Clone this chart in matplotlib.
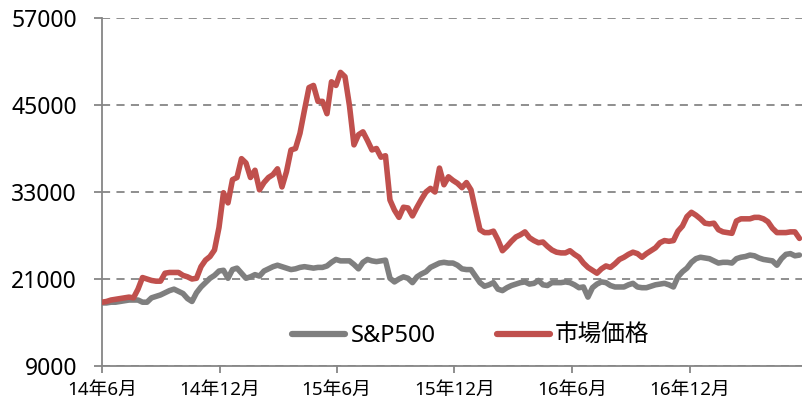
import matplotlib
matplotlib.use("Agg")
import matplotlib.pyplot as plt
import pandas as pd

plt.rcParams['font.family'] = ['Noto Sans', 'Noto Sans CJK JP', 'DejaVu Sans']

# Weekly observations, June 2014 - May 2017
dates = pd.date_range('2014-06-01', periods=156, freq='7D')

sp500 = [
    17700, 17700, 17800, 17800, 17900, 18000, 18100, 18100, 18100, 17800,
    17800, 18400, 18600, 18800, 19100, 19400, 19600, 19300, 19000, 18300,
    17900, 19100, 19900, 20500, 21100, 21500, 22100, 22200, 21100, 22300,
    22500, 21800, 21100, 21300, 21600, 21400, 22100, 22400, 22700, 22900,
    22700, 22500, 22300, 22400, 22600, 22700, 22600, 22500, 22600, 22600,
    22800, 23300, 23700, 23500, 23500, 23500, 23000, 22400, 23300, 23700,
    23500, 23400, 23500, 23600, 21100, 20600, 21000, 21300, 21100, 20500,
    21300, 21700, 22000, 22600, 22900, 23200, 23300, 23200, 23200, 22900,
    22400, 22300, 22300, 21400, 20500, 20000, 20200, 20500, 19600, 19400,
    19800, 20100, 20300, 20500, 20600, 20300, 20400, 20800, 20200, 20100,
    20500, 20500, 20500, 20600, 20500, 20200, 19800, 19900, 18500, 19800,
    20300, 20600, 20500, 20100, 19900, 19900, 19900, 20200, 20400, 19900,
    19800, 19800, 20000, 20200, 20300, 20400, 20200, 19900, 21300, 22000,
    22500, 23300, 23800, 24000, 23900, 23800, 23500, 23200, 23300, 23300,
    23200, 23800, 24000, 24100, 24300, 24200, 23900, 23700, 23600, 23500,
    22900, 23800, 24400, 24500, 24200, 24300,
]

market_price = [
    17800, 17900, 18100, 18200, 18300, 18400, 18500, 18400, 19600, 21200,
    21000, 20800, 20700, 20700, 21800, 21900, 21900, 21900, 21500, 21300,
    21000, 21100, 22700, 23600, 24100, 25000, 28100, 32900, 31500, 34700,
    35000, 37600, 37000, 35000, 36000, 33300, 34300, 35000, 35400, 36200,
    33700, 35800, 38800, 39000, 41100, 44300, 47400, 47700, 45500, 45500,
    43800, 48200, 47700, 49500, 48900, 44900, 39500, 40900, 41300, 40100,
    38800, 39000, 37800, 38000, 31900, 30500, 29500, 30900, 30800, 29700,
    30900, 32000, 33000, 33500, 33000, 36300, 34000, 35100, 34600, 34200,
    33600, 34300, 33300, 30500, 27800, 27400, 27400, 27600, 26400, 24900,
    25500, 26200, 26800, 27100, 27500, 26700, 26300, 26000, 26100, 25500,
    25000, 24700, 24600, 24600, 24900, 24400, 24000, 23200, 22600, 22200,
    21800, 22400, 22800, 22600, 23100, 23700, 24000, 24400, 24700, 24500,
    24000, 24500, 24900, 25300, 26000, 26300, 26200, 26300, 27600, 28300,
    29600, 30200, 29800, 29300, 28700, 28600, 28700, 27800, 27500, 27400,
    27300, 29000, 29300, 29300, 29300, 29500, 29500, 29300, 28900, 28000,
    27400, 27400, 27400, 27500, 27500, 26600,
]

series_labels = ['S&P500', '市場価格']
y_ticks = [9000, 21000, 33000, 45000, 57000]
x_ticks = ['2014-06-01', '2014-12-01', '2015-06-01', '2015-12-01', '2016-06-01', '2016-12-01']
x_tick_labels = ['14年6月', '14年12月', '15年6月', '15年12月', '16年6月', '16年12月']

fig = plt.figure(figsize=(8.02, 4.03), dpi=100)
ax = fig.add_axes([102 / 802, 1 - 366 / 403, 700 / 802, 348 / 403])

axis_grey = '#868686'
ax.plot(dates, sp500, color='#7F7F7F', lw=4.0, solid_capstyle='round',
        solid_joinstyle='round', label=series_labels[0], zorder=3)
ax.plot(dates, market_price, color='#C0504D', lw=4.0, solid_capstyle='round',
        solid_joinstyle='round', label=series_labels[1], zorder=4)

ax.set_ylim(y_ticks[0], y_ticks[-1])
ax.set_yticks(y_ticks)
ax.set_xlim(pd.Timestamp('2014-06-01'), pd.Timestamp('2017-05-25'))
ax.set_xticks([pd.Timestamp(d) for d in x_ticks])
ax.set_xticklabels(x_tick_labels)

ax.yaxis.grid(True, color=axis_grey, ls=(0, (4.5, 3.5)), lw=1.3)
ax.set_axisbelow(True)

for side in ('top', 'right'):
    ax.spines[side].set_visible(False)
for side in ('left', 'bottom'):
    ax.spines[side].set_color(axis_grey)
    ax.spines[side].set_linewidth(1.3)

ax.tick_params(axis='y', direction='out', length=6, width=1.3, color=axis_grey,
               labelsize=16.5, pad=12, labelcolor='black')
ax.tick_params(axis='x', direction='out', length=5, width=1.3, color=axis_grey,
               labelsize=13.5, pad=6, labelcolor='black')

leg = ax.legend(loc='center', bbox_to_anchor=(0.527, 0.086), ncol=2, frameon=False,
                fontsize=17, handlelength=2.25, handletextpad=0.22,
                columnspacing=2.6)
for line in leg.get_lines():
    line.set_linewidth(4.5)
    line.set_solid_capstyle('round')

fig.savefig('out.png', dpi=100)
